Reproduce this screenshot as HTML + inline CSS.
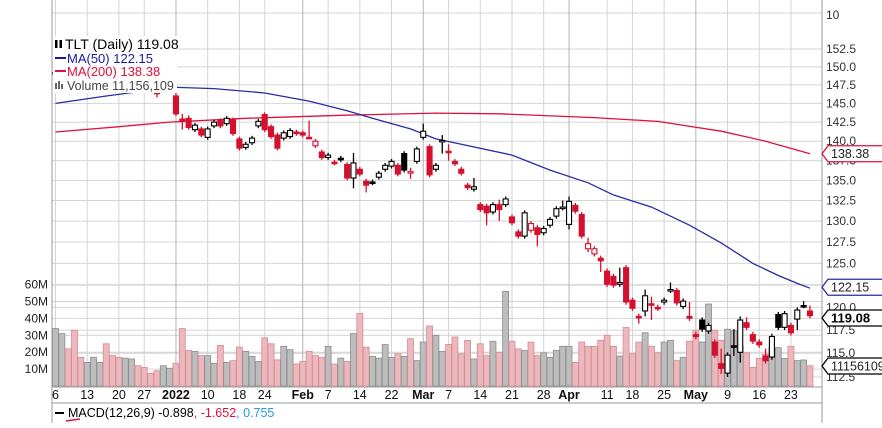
<!DOCTYPE html>
<html><head><meta charset="utf-8"><style>
html,body{margin:0;padding:0;background:#fff;}
body{width:882px;height:423px;overflow:hidden;font-family:"Liberation Sans",sans-serif;}
svg text{font-family:"Liberation Sans",sans-serif;}
</style></head><body>
<svg id="chart" width="882" height="423" viewBox="0 0 882 423" xmlns="http://www.w3.org/2000/svg">
<g id="grid"></g>
<g id="vol"></g>
<g id="ma"></g>
<g id="candles"></g>
<g id="axes"></g>
<g>
<rect x="53" y="36" width="124" height="57" fill="#fff"/>
<g><rect x="55" y="40" width="2.5" height="8" fill="#000"/><rect x="59.5" y="40" width="2.5" height="8" fill="#000"/></g>
<text x="65" y="49" font-size="14" fill="#000">TLT (Daily) 119.08</text>
<line x1="55" y1="58" x2="66" y2="58" stroke="#1a1aa0" stroke-width="2"/>
<text x="67" y="63" font-size="13" fill="#1a1aa0">MA(50) 122.15</text>
<line x1="55" y1="71" x2="66" y2="71" stroke="#e0103a" stroke-width="2"/>
<text x="67" y="76" font-size="13" fill="#e0103a">MA(200) 138.38</text>
<g fill="#666"><rect x="55" y="83" width="2" height="6"/><rect x="58" y="81" width="2" height="8"/><rect x="61" y="84" width="2" height="5"/></g>
<text x="67" y="90" font-size="12.5" fill="#444">Volume 11,156,109</text>
</g>
</svg>
<script>
const opens=[149.0,149.4,150.0,149.2,148.5,148.4,149.2,149.9,150.1,149.4,149.0,148.9,149.6,150.0,149.5,148.7,146.5,146.8,147.2,
146.0,142.9,143.0,141.5,141.6,140.5,142.0,142.7,142.3,142.8,140.3,139.2,139.8,142.0,143.5,141.9,140.8,140.4,140.6,141.2,
141.1,140.5,139.4,138.6,137.9,137.3,137.8,137.0,135.3,136.4,134.9,134.8,135.4,136.4,136.8,136.9,138.4,136.0,137.4,140.5,
139.3,136.4,140.0,138.7,137.4,136.4,134.4,133.9,132.0,131.8,131.1,132.0,132.0,130.5,128.7,128.2,128.9,129.2,128.6,129.5,
130.6,131.6,129.6,131.9,130.8,126.7,126.1,125.6,124.1,123.5,122.6,124.5,120.8,119.0,119.6,120.4,120.0,120.6,121.9,121.9,
120.1,119.0,117.0,118.6,117.4,116.2,113.9,112.9,115.8,115.1,118.3,117.0,116.2,114.7,114.6,119.2,117.8,118.0,118.7,120.2,119.6];
const closes=[149.2,150.1,149.5,148.6,148.2,149.0,149.8,150.3,149.6,149.0,148.8,149.5,150.2,149.7,148.9,148.0,146.3,147.1,147.3,
143.6,142.8,141.8,142.1,140.8,141.6,142.5,142.0,143.0,141.0,139.1,139.6,140.4,142.6,141.5,140.6,139.1,141.1,141.4,141.0,
140.8,140.5,140.0,137.9,138.2,137.2,137.6,135.3,137.2,135.8,134.4,134.7,135.9,136.9,137.4,135.8,136.3,136.1,139.0,141.3,
135.7,136.9,140.1,138.6,137.1,135.9,134.1,134.2,131.4,131.0,132.0,131.4,132.7,129.8,128.2,131.0,129.7,128.4,129.1,130.2,
131.5,131.7,132.4,131.2,128.2,127.3,126.7,125.3,122.6,122.5,122.8,120.6,119.9,118.9,121.3,120.3,119.9,120.8,122.0,120.5,
120.7,118.8,116.8,117.6,118.0,114.8,113.4,114.8,115.7,118.6,117.8,116.3,115.9,114.2,116.8,117.8,119.3,117.2,119.7,120.2,119.08];
const highs=closes.map((c,i)=>Math.max(c,opens[i]));
const lows=closes.map((c,i)=>Math.min(c,opens[i]));
const wickUp=[0.4,0.4,0.4,0.4,0.4,0.4,0.4,0.4,0.4,0.4,0.4,0.4,0.4,0.4,0.4,0.4,0.5,0.9,0.4,0.5,0.7,0.4,0.3,0.3,0.3,0.3,0.3,0.3,0.3,0.3,0.3,0.3,0.3,0.3,0.3,0.3,0.3,0.3,0.3,0.3,2.2,0.3,0.3,0.3,0.3,0.3,0.3,1.3,0.3,0.3,0.3,0.3,0.3,0.3,0.3,0.3,0.5,0.3,1.0,0.3,0.3,0.7,0.9,0.3,0.3,0.3,1.1,0.3,0.3,0.3,0.6,0.3,0.3,0.3,0.3,0.3,0.3,0.3,0.3,0.3,0.8,0.6,0.3,0.3,0.7,0.3,0.3,0.3,0.3,1.7,0.3,0.3,0.3,0.7,0.8,0.3,0.3,0.8,0.3,0.3,1.6,0.3,0.3,0.3,0.3,1.6,0.3,1.8,0.4,0.6,0.3,0.3,0.8,0.3,0.3,0.3,0.3,0.3,0.5,0.6];
const wickDn=[0.4,0.4,0.4,0.4,0.4,0.4,0.4,0.4,0.4,0.4,0.4,0.4,0.4,0.4,0.4,0.4,0.5,0.3,0.3,0.3,1.3,0.3,0.3,0.3,0.3,0.3,0.3,0.3,0.3,0.3,0.3,0.3,0.3,0.3,0.3,0.3,0.3,0.3,0.3,0.3,0.2,0.3,0.3,0.3,0.3,0.3,0.3,1.3,0.3,0.9,0.3,0.3,0.3,0.3,0.3,0.3,0.8,0.3,0.3,0.3,0.3,1.6,1.1,0.3,0.3,0.3,0.3,0.3,1.5,0.3,1.4,0.3,0.3,0.3,0.3,0.3,1.4,0.3,0.3,0.3,0.3,0.6,0.3,0.3,0.4,0.3,1.3,0.3,0.3,0.3,0.3,0.3,0.7,0.6,1.7,0.3,0.3,0.3,0.3,0.3,0.3,0.3,0.3,0.3,0.3,0.6,0.4,1.0,1.1,0.3,0.3,0.3,0.3,0.3,0.3,0.3,0.3,1.2,0.3,0.3];
const volumes=[34,31,22,33,17,14,17,14,25,18,17,16.5,16,12,11,7.5,9,12,10.5,13.5,
34,21,20.5,18,18,13.5,24,14,15,23,20.5,17.5,14.5,28.5,25,15.5,23.5,21.5,13,14.5,20.5,18,17,23.5,13,16.5,14.5,31,43,23,17.5,16.5,24.5,17,19,17.5,28,15,26,35.5,30,20.5,
24.6,29,19,27,16,25,18,26.5,20,56,26.5,22,21,26,18,19.6,17,21,23.5,23.5,14,26,23.5,23.5,27,30,23.5,17.7,34.6,19,26,31.5,23.5,19.6,26,27,15,17,26.5,33,26,48.5,33,27,33.6,32.7,23.5,19.6,11,16.3,18.8,23,22.7,16.3,23.5,15,15.4,12];
const ma50Days=[0,8,15,18,25,33,40,46,50,56,60,64,72,78,84,88,94,100,105,110,114,117,119];
const ma50Vals=[145.0,146.0,146.8,147.2,147.0,146.4,145.3,144.0,143.0,141.6,140.3,139.6,138.2,136.3,134.7,133.2,131.7,129.5,127.4,125.0,123.6,122.7,122.15];
const ma200Days=[0,10,18,30,45,60,70,85,95,105,112,119];
const ma200Vals=[141.2,141.9,142.5,143.0,143.4,143.7,143.6,143.1,142.6,141.3,140.0,138.38];
const priceTicks=[152.5,150,147.5,145,142.5,140,137.5,135,132.5,130,127.5,125,122.5,120,117.5,115,112.5];
const volTicks=[10,20,30,40,50,60];
const dateLabels=["6","13","20","27","2022","10","18","24","Feb","7","14","22","Mar","7","14","21","28","Apr","11","18","25","May","9","16","23"];
const dateIdx=[0,5,10,14,19,24,29,33,39,43,48,53,58,62,67,72,77,81,87,91,96,101,106,111,116];
const dateBold=[0,0,0,0,1,0,0,0,1,0,0,0,1,0,0,0,0,1,0,0,0,1,0,0,0];

const NS="http://www.w3.org/2000/svg";
const L=52,R=822,PB=387;
const X=i=>55.5+i*6.34;
const PY=p=>49+1078*Math.log(152.5/p);
const VY=v=>386-v*1.69;
function mk(parent,tag,attrs){const e=document.createElementNS(NS,tag);for(const k in attrs)e.setAttribute(k,attrs[k]);parent.appendChild(e);return e;}
const grid=document.getElementById('grid'),axes=document.getElementById('axes');
mk(grid,'rect',{x:L,y:0,width:R-L,height:PB,fill:'#fff'});
priceTicks.forEach(p=>{const l=mk(grid,'line',{x1:L,x2:R,y1:PY(p),y2:PY(p),stroke:'#d4d4d4','stroke-width':1});


const t=mk(axes,'text',{x:826,y:PY(p)+4,'font-size':12,fill:'#333'});t.textContent=p.toFixed(1);

});
mk(grid,'line',{x1:L,x2:R,y1:13,y2:13,stroke:'#d4d4d4'});
volTicks.forEach(v=>{const l=mk(grid,'line',{x1:L,x2:R,y1:VY(v),y2:VY(v),stroke:'#d4d4d4'});


const t=mk(axes,'text',{x:48,y:VY(v)+4,'font-size':12,fill:'#222','text-anchor':'end'});t.textContent=v+'M';

});
dateLabels.forEach((d,k)=>{const x=X(dateIdx[k]);
const l=mk(grid,'line',{x1:x,x2:x,y1:0,y2:PB,stroke:dateBold[k]?'#b4b4b4':'#d4d4d4'});


const t=mk(axes,'text',{x:x,y:399,'font-size':12.5,'font-weight':dateBold[k]?'bold':'normal',fill:'#111','text-anchor':'middle'});t.textContent=d;

});
const vg=document.getElementById('vol');
volumes.forEach((v,i)=>{const down=i>0&&closes[i]<closes[i-1];
const b=mk(vg,'rect',{x:X(i)-3,y:VY(v),width:6,height:386-VY(v),fill:down?'#eab8bd':'#bdbdbd',stroke:down?'#d98a92':'#8c8c8c','stroke-width':0.8});

});
const mg=document.getElementById('ma');
function line(days,vals,col,name){const d=days.map((dd,k)=>(k?'L':'M')+X(dd).toFixed(1)+' '+PY(vals[k]).toFixed(1)).join(' ');
const p=mk(mg,'path',{d:d,fill:'none',stroke:col,'stroke-width':1.3});

}
line(ma200Days,ma200Vals,'#e0103a','ma200-line');
line(ma50Days,ma50Vals,'#2a2aa8','ma50-line');
const cg=document.getElementById('candles');
closes.forEach((c,i)=>{const o=opens[i];const down=i>0&&c<closes[i-1];const col=down?'#d5102f':'#000';
const x=X(i);
const w=mk(cg,'line',{x1:x,x2:x,y1:PY(highs[i]+wickUp[i]),y2:PY(lows[i]-wickDn[i]),stroke:col,'stroke-width':1.3});


const top=PY(Math.max(o,c)),h=Math.max(1.5,PY(Math.min(o,c))-top);
const b=mk(cg,'rect',{x:x-2.5,y:top,width:5,height:h,fill:c>o?'#fff':col,stroke:col,'stroke-width':1.1});

});
mk(axes,'line',{x1:L,x2:L,y1:0,y2:423,stroke:'#999'});
mk(axes,'line',{x1:R,x2:R,y1:0,y2:423,stroke:'#999'});
mk(axes,'line',{x1:L,x2:R,y1:PB,y2:PB,stroke:'#999'});
mk(axes,'line',{x1:L,x2:R,y1:403,y2:403,stroke:'#999'});
const ten=mk(axes,'text',{x:826,y:19,'font-size':12,fill:'#333'});ten.textContent='10';
function tag(y,txt,col,bold,name){const g=mk(axes,'g',{});


const w=bold?56:58;
mk(g,'path',{d:`M${R} ${y} L${R+6} ${y-8} L${R+6+w} ${y-8} L${R+6+w} ${y+8} L${R+6} ${y+8} Z`,fill:'#fff',stroke:col,'stroke-width':1.3});
const t=mk(g,'text',{x:R+9,y:y+4.5,'font-size':bold?13:12.5,'font-weight':bold?'bold':'normal',fill:bold?'#000':'#222'});t.textContent=txt;}
tag(PY(138.38),'138.38','#e0103a',false,'ma200-value-tag');
tag(PY(122.15)-1,'122.15','#2a2aa8',false,'ma50-value-tag');
tag(318,'119.08','#000',true,'last-price-tag');
tag(366,'11156109','#000',false,'volume-value-tag');
const mh=mk(axes,'g',{});


mk(mh,'line',{x1:55,x2:64,y1:413,y2:413,stroke:'#000','stroke-width':2});
const mt=mk(mh,'text',{x:68,y:417,'font-size':12.5,fill:'#000'});
mt.innerHTML='MACD(12,26,9) -0.898<tspan fill="#e0103a">, -1.652</tspan><tspan fill="#2a9ad8">, 0.755</tspan>';
mk(axes,'path',{d:'M66 421 L80 419',stroke:'#e0103a','stroke-width':1.5,fill:'none'});
</script>
</body></html>
